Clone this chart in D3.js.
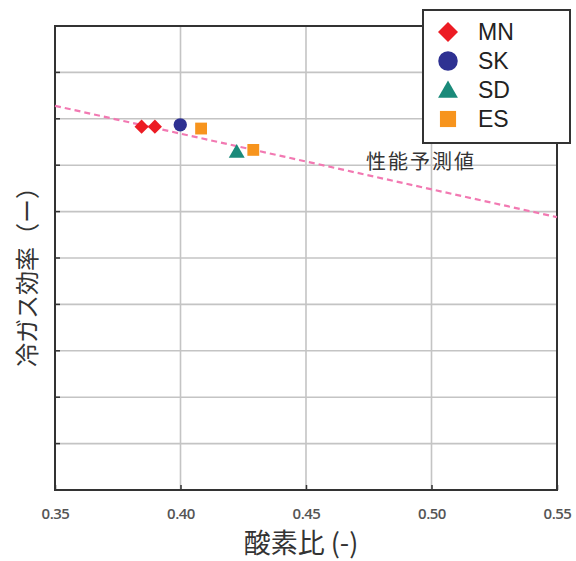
<!DOCTYPE html>
<html>
<head>
<meta charset="utf-8">
<script src="https://cdn.jsdelivr.net/npm/d3@7"></script>
<style>
  body { margin: 0; background: #fff; }
</style>
</head>
<body>
<div id="chart"></div>
<script>
// data
var xTicks = [0.35, 0.40, 0.45, 0.50, 0.55];
var yTicks = [0, 10, 20, 30, 40, 50, 60, 70, 80, 90, 100];
var series = ["MN", "SK", "SD", "ES"];
var mnPts = [[0.3845, 78.3], [0.3898, 78.3]];
var skPts = [[0.3999, 78.7]];
var sdPts = [[0.4224, 72.6]];
var esPts = [[0.4082, 77.9], [0.4290, 73.3]];
var predLine = [[0.35, 82.8], [0.55, 58.8]];

var colors = { MN: "#ec1c24", SK: "#2e3192", SD: "#1a8a7a", ES: "#f7941d" };
var shapes = { MN: d3.symbolSquare, SK: d3.symbolCircle, SD: d3.symbolTriangle, ES: d3.symbolSquare };
var rot = { MN: 45, SK: 0, SD: 0, ES: 0 };
var points = { MN: mnPts, SK: skPts, SD: sdPts, ES: esPts };

var W = 576, H = 561;
var m = { left: 55, right: 19, top: 26, bottom: 71 };

var svg = d3.select("#chart").append("svg")
  .attr("width", W).attr("height", H);

var x = d3.scaleLinear().domain([0.35, 0.55]).range([m.left, W - m.right]);
var y = d3.scaleLinear().domain([0, 100]).range([H - m.bottom, m.top]);

// grid
svg.append("g").selectAll("line").data(xTicks.slice(1, -1)).enter().append("line")
  .attr("x1", d => x(d)).attr("x2", d => x(d))
  .attr("y1", y(100)).attr("y2", y(0))
  .attr("stroke", "#c4c4c4").attr("stroke-width", 1.6);
svg.append("g").selectAll("line").data(yTicks.slice(1, -1)).enter().append("line")
  .attr("x1", x(0.35)).attr("x2", x(0.55))
  .attr("y1", d => y(d)).attr("y2", d => y(d))
  .attr("stroke", "#c4c4c4").attr("stroke-width", 1.6);

// x axis with inward ticks
var xAxis = d3.axisBottom(x).tickValues(xTicks).tickSize(-5).tickPadding(18)
  .tickFormat(d3.format(".2f"));
var gx = svg.append("g").attr("transform", "translate(0," + y(0) + ")").call(xAxis);
gx.select(".domain").remove();
gx.selectAll("line").attr("stroke", "#333").attr("stroke-width", 1.5);
gx.selectAll("text").attr("font-family", "'Open Sans', 'DejaVu Sans', sans-serif")
  .attr("font-size", 15).attr("font-weight", 600).attr("fill", "#555").attr("letter-spacing", -0.5);

// y ticks (no labels)
svg.append("g").selectAll("line").data(yTicks.slice(1, -1)).enter().append("line")
  .attr("x1", x(0.35)).attr("x2", x(0.35) + 5)
  .attr("y1", d => y(d)).attr("y2", d => y(d))
  .attr("stroke", "#333").attr("stroke-width", 1.5);

// frame
svg.append("rect")
  .attr("x", x(0.35)).attr("y", y(100))
  .attr("width", x(0.55) - x(0.35)).attr("height", y(0) - y(100))
  .attr("fill", "none").attr("stroke", "#333").attr("stroke-width", 2);

// prediction line
svg.append("path")
  .datum(predLine)
  .attr("d", d3.line().x(d => x(d[0])).y(d => y(d[1])))
  .attr("fill", "none").attr("stroke", "#f279b2")
  .attr("stroke-width", 2.2).attr("stroke-dasharray", "6,4");

svg.append("text")
  .attr("x", 366).attr("y", 169)
  .attr("font-family", "'Noto Sans CJK JP', sans-serif")
  .attr("font-size", 20).attr("letter-spacing", 2).attr("fill", "#333")
  .text("性能予測値");

// markers
var sizes = { MN: 100, SK: 140, SD: 110, ES: 140 };
series.forEach(function(s) {
  svg.append("g").selectAll("path").data(points[s]).enter().append("path")
    .attr("transform", d => "translate(" + x(d[0]) + "," + y(d[1]) + ") rotate(" + rot[s] + ")")
    .attr("d", d3.symbol().type(shapes[s]).size(sizes[s]))
    .attr("fill", colors[s]);
});

// legend
var lg = svg.append("g").attr("transform", "translate(423,10)");
lg.append("rect").attr("width", 147).attr("height", 133)
  .attr("fill", "#fff").attr("stroke", "#333").attr("stroke-width", 2);
var legSizes = { MN: 200, SK: 300, SD: 170, ES: 260 };
series.forEach(function(s, i) {
  var ry = 22 + i * 29;
  lg.append("path")
    .attr("transform", "translate(25," + (ry + (s === "SD" ? 2 : 0)) + ") rotate(" + rot[s] + ")")
    .attr("d", d3.symbol().type(shapes[s]).size(legSizes[s]))
    .attr("fill", colors[s]);
  lg.append("text").attr("x", 55).attr("y", ry + 8)
    .attr("font-family", "'Liberation Sans', Arial, sans-serif")
    .attr("font-size", 23).attr("fill", "#222")
    .text(s);
});

// axis titles
svg.append("text")
  .attr("x", 301).attr("y", 553).attr("text-anchor", "middle")
  .attr("font-family", "'Noto Sans CJK JP', sans-serif")
  .attr("font-size", 27).attr("fill", "#333")
  .text("酸素比 (-)");

svg.append("text")
  .attr("transform", "translate(36,271) rotate(-90)")
  .attr("text-anchor", "middle")
  .attr("font-family", "'Noto Sans CJK JP', sans-serif")
  .attr("font-size", 24).attr("fill", "#333")
  .text("冷ガス効率（ー）");
</script>
</body>
</html>
